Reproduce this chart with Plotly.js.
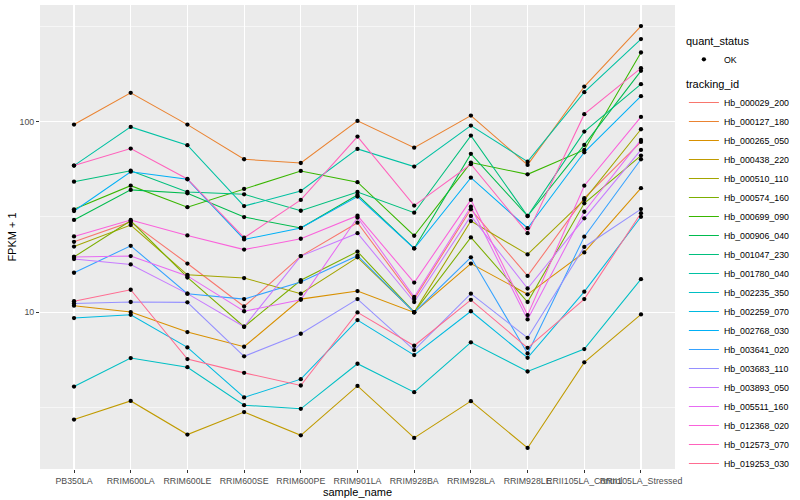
<!DOCTYPE html>
<html>
<head>
<meta charset="utf-8">
<script src="https://cdn.plot.ly/plotly-3.0.1.min.js"></script>
<style>
html, body { margin: 0; padding: 0; background: #ffffff; }
#chart { width: 800px; height: 500px; }
</style>
</head>
<body>
<div id="chart"></div>
<script>
// ---- data (FPKM + 1) ----
const categories = ["PB350LA", "RRIM600LA", "RRIM600LE", "RRIM600SE", "RRIM600PE", "RRIM901LA",
  "RRIM928BA", "RRIM928LA", "RRIM928LE", "RRII105LA_Control", "RRII105LA_Stressed"];

const trackingIds = ["Hb_000029_200", "Hb_000127_180", "Hb_000265_050", "Hb_000438_220", "Hb_000510_110",
  "Hb_000574_160", "Hb_000699_090", "Hb_000906_040", "Hb_001047_230", "Hb_001780_040",
  "Hb_002235_350", "Hb_002259_070", "Hb_002768_030", "Hb_003641_020", "Hb_003683_110",
  "Hb_003893_050", "Hb_005511_160", "Hb_012368_020", "Hb_012573_070", "Hb_019253_030"];

const hb_000029_200 = [23.4, 29.8, 18.0, 10.7, 19.7, 29.5, 11.7, 34.7, 15.5, 39.7, 78.5];
const hb_000127_180 = [96.8, 142.1, 96.8, 63.6, 60.8, 101.2, 73.2, 107.9, 59.4, 153.4, 319];
const hb_000265_050 = [10.8, 10.0, 7.85, 6.57, 11.7, 12.9, 9.96, 18.0, 12.4, 20.6, 44.8];
const hb_000438_220 = [2.72, 3.41, 2.27, 2.98, 2.25, 4.09, 2.18, 3.40, 1.93, 5.44, 9.72];
const hb_000510_110 = [22.1, 28.7, 15.7, 15.1, 12.5, 19.4, 10.0, 30.1, 20.1, 38.9, 91.5];
const hb_000574_160 = [19.5, 30.2, 15.2, 8.37, 14.7, 20.8, 10.0, 24.7, 11.3, 37.3, 66.5];
const hb_000699_090 = [34.7, 46.2, 35.6, 44.4, 55.2, 48.2, 25.2, 61.1, 53.0, 71.2, 231.6];
const hb_000906_040 = [30.5, 43.9, 42.1, 31.6, 27.7, 41.3, 21.6, 67.9, 32.0, 75.7, 185.5];
const hb_001047_230 = [48.5, 55.4, 42.8, 41.6, 34.1, 42.8, 33.3, 84.7, 32.0, 88.9, 157.9];
const hb_001780_040 = [58.9, 94.1, 75.4, 36.1, 43.3, 72.1, 58.2, 95.6, 61.8, 143.3, 272.5];
const hb_002235_350 = [4.06, 5.73, 5.13, 3.24, 3.10, 5.35, 3.79, 6.93, 4.87, 6.39, 14.9];
const hb_002259_070 = [9.30, 9.68, 6.52, 3.56, 4.44, 9.08, 5.94, 10.1, 5.75, 12.8, 31.7];
const hb_002768_030 = [34.0, 54.7, 49.9, 24.1, 27.7, 40.5, 21.6, 50.9, 27.6, 69.2, 136.5];
const hb_003641_020 = [16.1, 22.3, 12.5, 11.7, 14.4, 19.8, 9.96, 19.4, 6.06, 24.9, 63.6];
const hb_003683_110 = [11.1, 11.3, 11.25, 5.85, 7.69, 11.7, 6.31, 12.5, 7.32, 22.0, 34.8];
const hb_003893_050 = [19.0, 17.8, 12.5, 8.37, 19.7, 26.0, 11.3, 32.0, 13.3, 31.1, 71.2];
const hb_005511_160 = [19.5, 19.7, 15.5, 10.1, 11.6, 31.4, 12.0, 35.8, 9.15, 33.7, 80.4];
const hb_012368_020 = [25.0, 30.5, 25.3, 21.3, 24.3, 32.1, 14.3, 38.9, 9.64, 46.2, 106.2];
const hb_012573_070 = [58.9, 72.4, 50.1, 24.6, 38.9, 83.7, 36.3, 59.9, 26.0, 109.8, 191.7];
const hb_019253_030 = [11.4, 13.1, 5.66, 4.79, 4.11, 9.96, 6.65, 11.6, 6.49, 11.7, 33.1];

const seriesValues = [hb_000029_200, hb_000127_180, hb_000265_050, hb_000438_220, hb_000510_110,
  hb_000574_160, hb_000699_090, hb_000906_040, hb_001047_230, hb_001780_040,
  hb_002235_350, hb_002259_070, hb_002768_030, hb_003641_020, hb_003683_110,
  hb_003893_050, hb_005511_160, hb_012368_020, hb_012573_070, hb_019253_030];

const quantStatus = ["OK"];
const yTickVals = [10, 100];
const yTickText = ["10", "100"];
const yMinorVals = [3.1623, 31.623, 316.23];

// ---- styles ----
const lineColors = ["#F8766D", "#EA8331", "#D89000", "#C09B00", "#A3A500", "#7CAE00", "#39B600",
  "#00BB4E", "#00BF7D", "#00C1A3", "#00BFC4", "#00BAE0", "#00B0F6", "#35A2FF", "#9590FF",
  "#C77CFF", "#E76BF3", "#FA62DB", "#FF62BC", "#FF6C91"];

const FONT = "Liberation Sans, Arial, Helvetica, sans-serif";

const traces = [];
seriesValues.forEach(function (vals, i) {
  traces.push({
    type: "scatter", mode: "lines",
    x: categories, y: vals,
    name: trackingIds[i],
    legend: "legend2",
    line: { color: lineColors[i], width: 1.05 },
    hoverinfo: "skip"
  });
});

// all points on top (quant_status = OK)
const px = [], py = [];
seriesValues.forEach(function (vals) {
  vals.forEach(function (v, j) { px.push(categories[j]); py.push(v); });
});
traces.push({
  type: "scatter", mode: "markers",
  x: px, y: py,
  name: quantStatus[0],
  legend: "legend",
  marker: { color: "#000000", size: 4.3, symbol: "circle" },
  hoverinfo: "skip"
});

const layout = {
  width: 800, height: 500,
  margin: { l: 40, r: 117, t: 5, b: 31, pad: 0 },
  paper_bgcolor: "#FFFFFF",
  plot_bgcolor: "#EBEBEB",
  font: { family: FONT, size: 8.8, color: "#4D4D4D" },
  showlegend: true,
  xaxis: {
    type: "category",
    categoryorder: "array", categoryarray: categories,
    range: [-0.6, categories.length - 0.4],
    showgrid: true, gridcolor: "#FFFFFF", gridwidth: 1.1,
    zeroline: false, showline: false,
    ticks: "outside", ticklen: 3, tickwidth: 1, tickcolor: "#333333",
    tickangle: 0,
    tickfont: { family: FONT, size: 8.8, color: "#4D4D4D" },
    title: { text: "sample_name", font: { family: FONT, size: 11, color: "#000000" }, standoff: 2 },
    automargin: false
  },
  yaxis: {
    type: "log",
    range: [0.1749, 2.6146],
    tickmode: "array", tickvals: yTickVals, ticktext: yTickText,
    showgrid: true, gridcolor: "#FFFFFF", gridwidth: 1.1,
    zeroline: false, showline: false,
    ticks: "outside", ticklen: 3, tickwidth: 1, tickcolor: "#333333",
    tickfont: { family: FONT, size: 8.8, color: "#4D4D4D" },
    minor: { tickmode: "array", tickvals: yMinorVals, showgrid: true, gridcolor: "#FFFFFF", gridwidth: 0.55, ticks: "" },
    title: { text: "FPKM + 1", font: { family: FONT, size: 11, color: "#000000" }, standoff: 0 },
    automargin: false
  },
  legend: {
    title: { text: "quant_status", font: { family: FONT, size: 11, color: "#000000" } },
    x: 1.014, xanchor: "left", y: 0.945, yanchor: "top",
    font: { family: FONT, size: 8.8, color: "#000000" },
    bgcolor: "rgba(0,0,0,0)", itemwidth: 30, tracegroupgap: 0
  },
  legend2: {
    title: { text: "tracking_id", font: { family: FONT, size: 11, color: "#000000" } },
    x: 1.014, xanchor: "left", y: 0.852, yanchor: "top",
    font: { family: FONT, size: 8.8, color: "#000000" },
    bgcolor: "rgba(0,0,0,0)", itemwidth: 30, tracegroupgap: 0
  }
};

Plotly.newPlot("chart", traces, layout, { staticPlot: true, displayModeBar: false });
</script>
</body>
</html>
